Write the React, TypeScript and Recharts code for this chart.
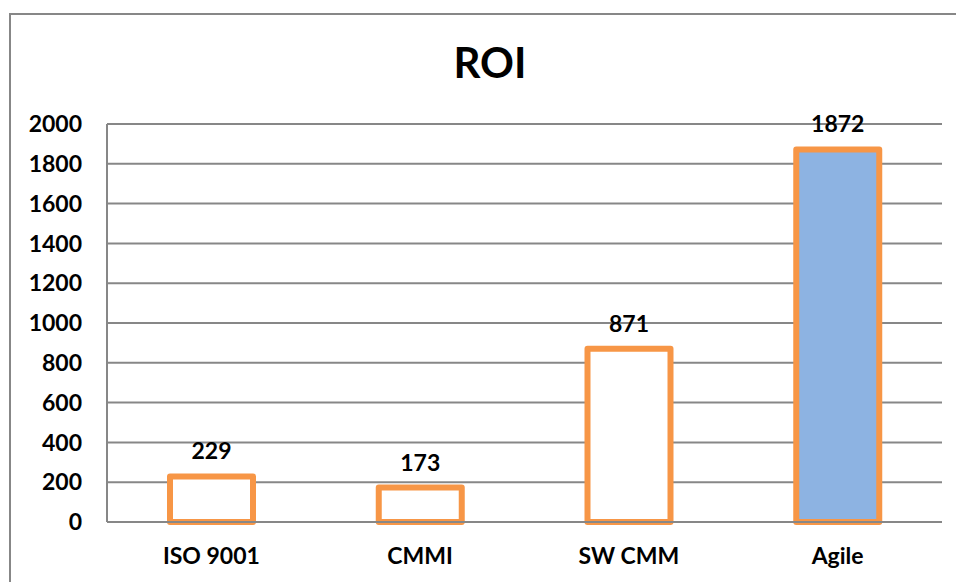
import React from 'react';
import { BarChart, Bar, XAxis, YAxis, CartesianGrid, Cell, LabelList } from 'recharts';

// ROI per process model
const categories = ['ISO 9001', 'CMMI', 'SW CMM', 'Agile'];
const roiValues = [229, 173, 871, 1872];
const fillColors = ['#FFFFFF', '#FFFFFF', '#FFFFFF', '#8DB3E2'];
const yTicks = [0, 200, 400, 600, 800, 1000, 1200, 1400, 1600, 1800, 2000];

const data = categories.map((name, i) => ({ name, roi: roiValues[i] }));

const FONT = 'Lato, "Open Sans", sans-serif';
const GRID = '#878787';
const ORANGE = '#F79646';

export default function App() {
  return (
    <div style={{ position: 'absolute', left: 0, top: 0, width: 956, height: 582, background: '#fff', overflow: 'hidden' }}>
      <div
        style={{
          position: 'absolute',
          left: 9,
          top: 13,
          width: 990,
          height: 620,
          border: `2px solid ${GRID}`,
          boxSizing: 'border-box',
        }}
      />
      <div
        style={{
          position: 'absolute',
          left: 0,
          top: 41,
          width: 980,
          textAlign: 'center',
          fontFamily: FONT,
          fontWeight: 700,
          fontSize: 42,
          lineHeight: '42px',
          color: '#000',
        }}
      >
        ROI
      </div>
      <div style={{ position: 'absolute', left: 0, top: 0 }}>
        <BarChart
          width={956}
          height={582}
          data={data}
          margin={{ top: 124, right: 14, bottom: 0, left: 0 }}
          barCategoryGap={0}
        >
          <CartesianGrid vertical={false} stroke={GRID} strokeWidth={2} />
          <XAxis
            dataKey="name"
            height={60}
            tickLine={false}
            tickSize={0}
            tickMargin={26}
            axisLine={{ stroke: GRID, strokeWidth: 2 }}
            tick={{ fill: '#000', fontFamily: FONT, fontWeight: 700, fontSize: 23 }}
            interval={0}
          />
          <YAxis
            width={107}
            domain={[0, 2000]}
            ticks={yTicks}
            interval={0}
            tickLine={false}
            tickSize={0}
            tickMargin={25}
            axisLine={{ stroke: GRID, strokeWidth: 2 }}
            tick={{ fill: '#000', fontFamily: FONT, fontWeight: 700, fontSize: 23 }}
          />
          <Bar
            dataKey="roi"
            barSize={83}
            stroke={ORANGE}
            strokeWidth={6}
            strokeLinejoin="round"
            isAnimationActive={false}
          >
            {data.map((d, i) => (
              <Cell key={d.name} fill={fillColors[i]} />
            ))}
            <LabelList
              dataKey="roi"
              position="top"
              offset={17}
              fill="#000"
              style={{ fontFamily: FONT, fontWeight: 700, fontSize: 23 }}
            />
          </Bar>
        </BarChart>
      </div>
    </div>
  );
}
